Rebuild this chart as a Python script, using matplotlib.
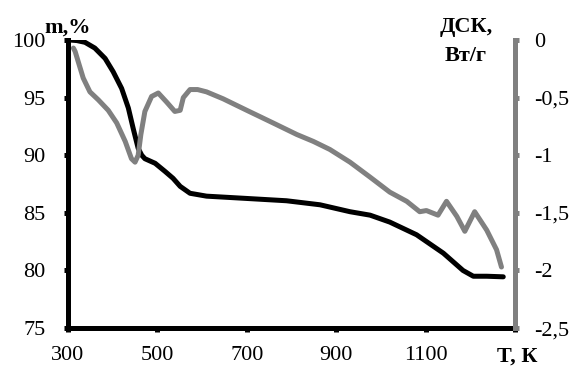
import matplotlib.pyplot as plt

plt.rcParams['font.family'] = ['Liberation Serif', 'DejaVu Serif']

# mass loss curve, T in K, m in %
t_mass = [304, 320, 338, 360, 383, 401, 420, 435, 446, 457, 465, 472, 495, 517,
          535, 551, 573, 610, 700, 789, 864, 931, 976, 1020, 1080, 1140, 1184,
          1207, 1237, 1274]
mass = [100, 99.95, 99.8, 99.3, 98.4, 97.25, 95.8, 94.1, 92.3, 90.6, 90.0, 89.7,
        89.3, 88.6, 88.0, 87.3, 86.7, 86.45, 86.25, 86.05, 85.7, 85.1, 84.8, 84.2,
        83.1, 81.5, 80.0, 79.5, 79.5, 79.45]

# DSC curve, W/g
t_dsc = [312, 316, 323, 334, 349, 368, 390, 409, 428, 442, 450, 457, 463, 472,
         487, 502, 521, 539, 551, 558, 573, 590, 610, 647, 700, 759, 812, 849,
         886, 931, 976, 1020, 1058, 1087, 1102, 1128, 1147, 1170, 1188, 1210,
         1237, 1259, 1270]
dsc = [-0.07, -0.10, -0.19, -0.33, -0.45, -0.52, -0.61, -0.72, -0.88, -1.03,
       -1.06, -1.00, -0.82, -0.62, -0.49, -0.46, -0.54, -0.62, -0.61, -0.50,
       -0.43, -0.43, -0.45, -0.51, -0.61, -0.72, -0.82, -0.88, -0.95, -1.06,
       -1.19, -1.32, -1.40, -1.49, -1.48, -1.52, -1.40, -1.53, -1.66, -1.49,
       -1.65, -1.82, -1.97]

x_ticks = [300, 500, 700, 900, 1100, 1300]
x_labels = ['300', '500', '700', '900', '1100', '']
m_ticks = [75, 80, 85, 90, 95, 100]
d_ticks = [0, -0.5, -1, -1.5, -2, -2.5]
d_labels = ['0', '-0,5', '-1', '-1,5', '-2', '-2,5']

fig = plt.figure(figsize=(5.74, 3.67), dpi=100)
ax = fig.add_axes([0.1185, 0.106, 0.7785, 0.785])
ax2 = ax.twinx()

ax.plot(t_mass, mass, color='black', linewidth=3.6, solid_capstyle='round',
        solid_joinstyle='round', zorder=2)
ax2.plot(t_dsc, dsc, color='#808080', linewidth=3.6, solid_capstyle='round',
         solid_joinstyle='round', zorder=3)

ax.set_xlim(300, 1300)
ax.set_ylim(75, 100)
ax2.set_ylim(-2.5, 0)
ax.set_xticks(x_ticks)
ax.set_xticklabels(x_labels)
ax.set_yticks(m_ticks)
ax2.set_yticks(d_ticks)
ax2.set_yticklabels(d_labels)

for a in (ax, ax2):
    a.spines['top'].set_visible(False)
    a.spines['left'].set_linewidth(3.6)
    a.spines['bottom'].set_linewidth(3.6)
    a.spines['right'].set_linewidth(3.6)
ax2.spines['right'].set_color('#808080')
ax2.spines['left'].set_visible(False)
ax2.spines['bottom'].set_visible(False)
ax.spines['right'].set_visible(False)

ax.tick_params(axis='both', direction='out', length=3, width=3.6, labelsize=16, colors='black')
ax.tick_params(axis='x', pad=10)
ax.tick_params(axis='y', pad=13)
ax2.tick_params(axis='y', direction='out', length=3, width=3.6, labelsize=16,
                color='#808080', labelcolor='black', pad=11)

ax2.set_zorder(ax.get_zorder() + 1)
ax.patch.set_visible(False)

fig.text(0.117, 0.926, 'm,%', fontsize=16, fontweight='bold', ha='center', va='center')
fig.text(0.812, 0.926, 'ДСК,', fontsize=16, fontweight='bold', ha='center', va='center')
fig.text(0.812, 0.847, 'Вт/г', fontsize=16, fontweight='bold', ha='center', va='center')
fig.text(0.866, 0.027, 'T, К', fontsize=16, fontweight='bold', ha='left', va='center')

plt.savefig('out.png', dpi=100)
